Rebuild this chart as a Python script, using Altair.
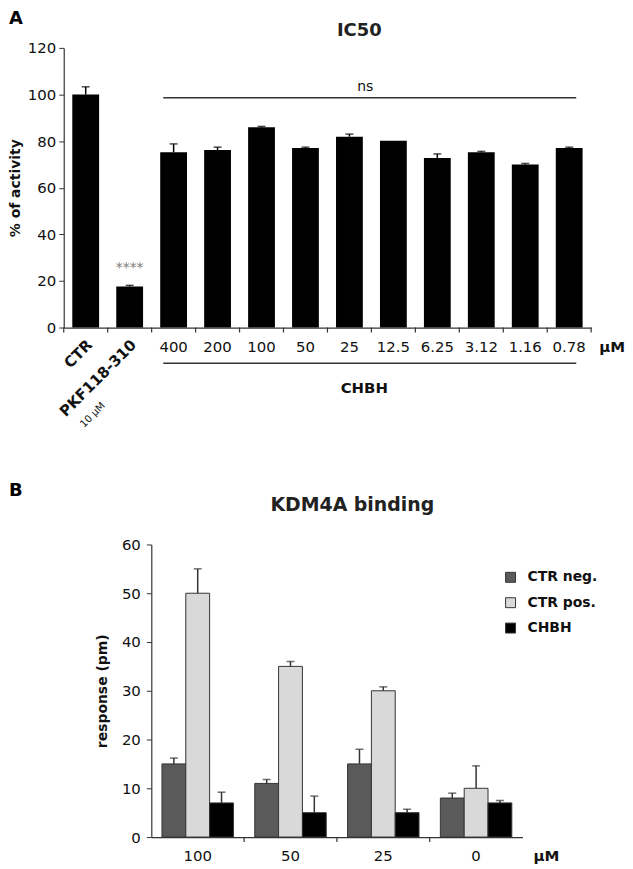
import altair as alt
import pandas as pd

FONT = "DejaVu Sans"

# ---------------- Panel A data ----------------
catsA = ["CTR", "PKF118-310", "400", "200", "100", "50", "25", "12.5", "6.25", "3.12", "1.16", "0.78"]
valsA = [100, 17.6, 75.2, 76.2, 85.9, 77.0, 81.9, 80.2, 72.8, 75.2, 70.0, 77.0]
errA = [3.3, 0.5, 3.6, 1.2, 0.4, 0.4, 1.1, 0.0, 1.7, 0.4, 0.4, 0.4]
rotLabels = ["CTR", "PKF118-310"]

# ---------------- Panel B data ----------------
groupsB = ["100", "50", "25", "0"]
seriesB = ["CTR neg.", "CTR pos.", "CHBH"]
negB = [15, 11, 15, 8]
negErrB = [1.2, 0.8, 3.0, 1.0]
posB = [50, 35, 30, 10]
posErrB = [5.0, 1.0, 0.8, 4.6]
chbhB = [7, 5, 5, 7]
chbhErrB = [2.2, 3.4, 0.7, 0.5]
colorsB = ["#5a5a5a", "#d9d9d9", "#000000"]

dfA = pd.DataFrame({"cat": catsA, "val": valsA, "err": errA})
dfA["top"] = dfA["val"] + dfA["err"]

rows = []
for s, vals, errs in [(seriesB[0], negB, negErrB), (seriesB[1], posB, posErrB), (seriesB[2], chbhB, chbhErrB)]:
    for g, v, e in zip(groupsB, vals, errs):
        rows.append({"grp": g, "series": s, "val": v, "err": e, "top": v + e})
dfB = pd.DataFrame(rows)


def label(text, x, y, size=15, weight="normal", color="#111", align="center", baseline="middle", angle=None):
    kw = dict(fontSize=size, fontWeight=weight, color=color, align=align, baseline=baseline)
    if angle is not None:
        kw["angle"] = angle
    return alt.Chart(pd.DataFrame({"t": [text]})).mark_text(**kw).encode(
        x=alt.value(x), y=alt.value(y), text="t:N")


# ---------------- Panel A ----------------
WA, HA = 530, 281
GAPA = 8.6  # half gap between bars (pixels)
scA = alt.Scale(domain=catsA, paddingInner=0.39, paddingOuter=0.195)
xA = alt.X("cat:N", sort=catsA, scale=scA, title=None,
           axis=alt.Axis(ticks=False, labelAngle=0, labelFontSize=15, labelPadding=12,
                         labelColor="#111", domainColor="#333", domainWidth=1.2,
                         labelExpr="(datum.value == 'CTR' || datum.value == 'PKF118-310') ? '' : datum.value"))
yA = alt.Y("val:Q", scale=alt.Scale(domain=[0, 120], nice=False),
           axis=alt.Axis(values=list(range(0, 121, 20)), title="% of activity", grid=False,
                         labelFontSize=15, labelPadding=3, tickSize=5, tickColor="#333",
                         domainColor="#333", domainWidth=1.2, titleFontSize=14,
                         titleFontWeight="bold", titlePadding=5, labelColor="#111", titleColor="#111"))

barsA = alt.Chart(dfA).mark_bar(color="black").encode(x=xA, y=yA)
errA_rule = alt.Chart(dfA).transform_filter("datum.err > 0").mark_rule(color="black", strokeWidth=1.5).encode(
    x=alt.X("cat:N", sort=catsA), y="val:Q", y2="top:Q")
errA_cap = alt.Chart(dfA).transform_filter("datum.err > 0").mark_tick(color="black", size=8, thickness=1.5).encode(
    x=alt.X("cat:N", sort=catsA), y="top:Q")

ticksA = alt.Chart(pd.DataFrame({"cat": catsA})).mark_rule(color="#333", strokeWidth=1.2, xOffset=-GAPA).encode(
    x=alt.X("cat:N", sort=catsA, bandPosition=0), y=alt.value(HA), y2=alt.value(HA + 5))
tickEndA = alt.Chart(pd.DataFrame({"cat": [catsA[-1]]})).mark_rule(color="#333", strokeWidth=1.2, xOffset=GAPA).encode(
    x=alt.X("cat:N", sort=catsA, bandPosition=1), y=alt.value(HA), y2=alt.value(HA + 5))

rotA = alt.Chart(pd.DataFrame({"cat": rotLabels})).mark_text(
    angle=315, align="right", baseline="middle", fontSize=15, fontWeight="bold", color="#111").encode(
    x=alt.X("cat:N", sort=catsA, bandPosition=0.65), y=alt.value(HA + 15), text="cat:N")

starsA = alt.Chart(pd.DataFrame({"cat": ["PKF118-310"], "y": [25.5], "t": ["****"]})).mark_text(
    fontSize=14, color="#808080", baseline="middle").encode(
    x=alt.X("cat:N", sort=catsA), y="y:Q", text="t:N")

nsLine = alt.Chart(pd.DataFrame({"a": [0]})).mark_rule(color="#333", strokeWidth=1.5).encode(
    x=alt.value(100), x2=alt.value(515), y=alt.value(50))
chbhLine = alt.Chart(pd.DataFrame({"a": [0]})).mark_rule(color="#333", strokeWidth=1.5).encode(
    x=alt.value(100), x2=alt.value(515), y=alt.value(HA + 36))

panelA = alt.layer(
    barsA, errA_rule, errA_cap, ticksA, tickEndA, rotA, starsA, nsLine, chbhLine,
    label("10 μM", 40, HA + 77, size=10, align="right", angle=315),
    label("ns", 303, 39, size=14),
    label("CHBH", 302, HA + 61, weight="bold"),
    label("μM", 551, HA + 20, weight="bold"),
    label("IC50", 297, -17, size=18, weight="bold", color="#222"),
    label("A", -55, -38, size=18, weight="bold", color="#000", align="left", baseline="top"),
).properties(width=WA, height=HA)

# ---------------- Panel B ----------------
SHIFT = 88           # panel B plot starts further right than panel A
WB, HB = 373, 294
GAPB = 10.7
scB = alt.Scale(domain=groupsB, paddingInner=0.23, paddingOuter=0.115, range=[SHIFT, SHIFT + WB])
xB = alt.X("grp:N", sort=groupsB, scale=scB, title=None,
           axis=alt.Axis(ticks=False, labelAngle=0, labelFontSize=15, labelPadding=12,
                         labelColor="#111", domainColor="#333", domainWidth=1.2))
yB = alt.Y("val:Q", scale=alt.Scale(domain=[0, 60], nice=False),
           axis=alt.Axis(values=list(range(0, 61, 10)), title="response (pm)", grid=False, offset=-SHIFT,
                         labelFontSize=15, labelPadding=6, tickSize=5, tickColor="#333",
                         domainColor="#333", domainWidth=1.2, titleFontSize=14,
                         titleFontWeight="bold", titlePadding=12, labelColor="#111", titleColor="#111"))
xoffB = alt.XOffset("series:N", sort=seriesB, scale=alt.Scale(domain=seriesB, paddingInner=0, paddingOuter=0))

barsB = alt.Chart(dfB).mark_bar(stroke="#333", strokeWidth=1).encode(
    x=xB, xOffset=xoffB, y=yB,
    color=alt.Color("series:N", sort=seriesB,
                    scale=alt.Scale(domain=seriesB, range=colorsB),
                    legend=alt.Legend(title=None, orient="none", legendX=SHIFT + 354, legendY=26,
                                      symbolType="square", symbolSize=100, symbolStrokeColor="#333",
                                      symbolStrokeWidth=1, labelFontSize=14, labelFontWeight="bold",
                                      labelColor="#111", labelOffset=10, rowPadding=11.5)))
errB_rule = alt.Chart(dfB).mark_rule(color="#333", strokeWidth=1.5).encode(
    x=alt.X("grp:N", sort=groupsB), xOffset=xoffB, y="val:Q", y2="top:Q")
errB_cap = alt.Chart(dfB).mark_tick(color="#333", size=8, thickness=1.5).encode(
    x=alt.X("grp:N", sort=groupsB), xOffset=xoffB, y="top:Q")
ticksB = alt.Chart(pd.DataFrame({"grp": groupsB[1:]})).mark_rule(color="#333", strokeWidth=1.2, xOffset=-GAPB).encode(
    x=alt.X("grp:N", sort=groupsB, bandPosition=0), y=alt.value(HB), y2=alt.value(HB + 5))

panelB = alt.layer(
    barsB, errB_rule, errB_cap, ticksB,
    label("μM", SHIFT + 397, HB + 19, weight="bold"),
    label("KDM4A binding", 290, -40, size=19, weight="bold", color="#222"),
    label("B", -55, -63, size=18, weight="bold", color="#000", align="left", baseline="top"),
).properties(width=SHIFT + WB, height=HB)

chart = alt.vconcat(panelA, panelB, spacing=218, bounds="flush").resolve_legend(color="independent").properties(
    padding={"left": 0, "top": 0, "right": 0, "bottom": 0}
).configure(font=FONT).configure_view(stroke=None).configure_axis(
    labelFont=FONT, titleFont=FONT).configure_legend(labelFont=FONT).configure_title(font=FONT)

chart.save("out.html", embed_options={"renderer": "svg", "actions": False})
